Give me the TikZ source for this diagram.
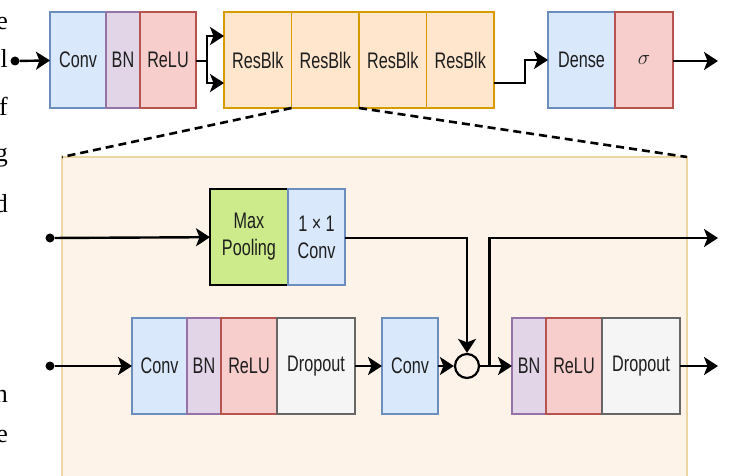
\documentclass[tikz,border=0pt]{standalone}
\usepackage{fontspec}
\setmainfont{Liberation Sans}[FakeStretch=0.72]
\newfontfamily\pagefont{Liberation Serif}
\usetikzlibrary{arrows.meta,positioning,calc}
\definecolor{nnink}{HTML}{1E1E1E}
\definecolor{nnblue}{HTML}{DAE8FC}
\definecolor{nnblueline}{HTML}{6C8EBF}
\definecolor{nnpurple}{HTML}{E1D5E7}
\definecolor{nnpurpleline}{HTML}{9673A6}
\definecolor{nnred}{HTML}{F8CECC}
\definecolor{nnredline}{HTML}{B85450}
\definecolor{nnorange}{HTML}{FFE6CC}
\definecolor{nnorangeline}{HTML}{D79B00}
\definecolor{nngreen}{HTML}{CDEB8B}
\definecolor{nngrey}{HTML}{F5F5F5}
\definecolor{nngreyline}{HTML}{666666}
\definecolor{nnzoom}{HTML}{FDF3E8}
\definecolor{nnzoomline}{HTML}{EBD6A4}
\tikzset{
  blk/.style={rectangle,line width=1.8pt,outer sep=0pt,inner sep=0pt,
              minimum height=96pt,align=center,text=nnink,
              font=\fontsize{22.5}{27}\selectfont},
  convb/.style={blk,draw=nnblueline,fill=nnblue,minimum width=#1},
  convb/.default=56pt,
  bnb/.style={blk,draw=nnpurpleline,fill=nnpurple,minimum width=34pt},
  relub/.style={blk,draw=nnredline,fill=nnred,minimum width=56pt},
  dropb/.style={blk,draw=nngreyline,fill=nngrey,minimum width=78pt},
  resb/.style={blk,draw=nnorangeline,fill=nnorange,minimum width=67.5pt},
  poolb/.style={blk,draw=black,line width=2pt,fill=nngreen,minimum width=78pt},
  flow/.style={-{Stealth[length=14pt,width=18pt,inset=3.5pt]},line width=2.4pt,draw=black},
  wire/.style={line width=2.4pt,draw=black},
  src/.style={circle,fill=black,inner sep=0pt,minimum size=9pt},
  zoomline/.style={line width=2.6pt,dash pattern=on 8pt off 5pt},
}
\begin{document}
\begin{tikzpicture}[x=1pt,y=-1pt]
  \useasboundingbox (0,0) rectangle (729,476);
  \clip (0,0) rectangle (729,476);

  % cut-off words of the surrounding page text
  \foreach \ch/\yy in {e/30,l/68,f/116,g/162,d/212,n/402,e/442}
    \node[anchor=base east,inner sep=0pt,font=\pagefont\fontsize{26}{26}\selectfont] at (8,\yy) {\ch};

  % expanded residual block (drawn behind everything)
  \node[rectangle,draw=nnzoomline,fill=nnzoom,line width=1.4pt,outer sep=0pt,
        minimum width=625pt,minimum height=340pt,anchor=north west] (zoom) at (62,157) {};

  % top row: stem, residual blocks, head
  \node[src] (in0) at (15,61) {};
  \node[convb] (conv) at (78,60) {Conv};
  \node[bnb,right=0pt of conv] (bn) {BN};
  \node[relub,right=0pt of bn] (relu) {ReLU};
  \node[resb,anchor=west] (r1) at (224,60) {ResBlk};
  \node[resb,right=0pt of r1] (r2) {ResBlk};
  \node[resb,right=0pt of r2] (r3) {ResBlk};
  \node[resb,right=0pt of r3] (r4) {ResBlk};
  \node[convb=67pt,anchor=west] (dense) at (548,60) {Dense};
  \node[relub,minimum width=58pt,right=0pt of dense] (sig) {$\sigma$};
  \coordinate (split) at (207,61);
  \coordinate (out0) at (718,61);

  \draw[flow] (in0) -- (conv);
  \draw[wire] (relu.east |- split) -- (split);
  \draw[flow] (split) |- ([yshift=24pt]r1.west);
  \draw[flow] (split) |- ([yshift=-23pt]r1.west);
  \draw[flow] ([yshift=-23pt]r4.east) -- ++(31,0) |- (dense.west);
  \draw[flow] (sig.east |- out0) -- (out0);

  \draw[zoomline] (r2.south west) -- (zoom.north west);
  \draw[zoomline] (r2.south east) -- (zoom.north east);

  % shortcut branch
  \node[src] (in1) at (50,238) {};
  \node[poolb,anchor=west] (pool) at (210,237) {Max\\Pooling};
  \node[convb=57pt,right=0pt of pool] (c11) {1 × 1\\Conv};

  % main branch
  \node[src] (in2) at (50,366) {};
  \node[convb=55pt,anchor=west] (cv1) at (132,366) {Conv};
  \node[bnb,right=0pt of cv1] (bn1) {BN};
  \node[relub,right=0pt of bn1] (relu1) {ReLU};
  \node[dropb,right=0pt of relu1] (drop1) {Dropout};
  \node[convb,anchor=west] (cv2) at (382,366) {Conv};
  \node[circle,draw=black,line width=2.2pt,fill=nnzoom,minimum size=24pt,inner sep=0pt]
    (add) at (467,366) {};
  \node[bnb,anchor=west] (bn2) at (512,366) {BN};
  \node[relub,right=0pt of bn2] (relu2) {ReLU};
  \node[dropb,right=0pt of relu2] (drop2) {Dropout};
  \coordinate (tap) at ($(add.east)!0.3!(bn2.west)$);
  \coordinate (out1) at (718,238);
  \coordinate (out2) at (718,366);

  \draw[flow] (in1) -- (pool);
  \draw[flow] (c11.east |- in1) -| (add.north);
  \draw[flow] (in2) -- (cv1);
  \draw[flow] (drop1) -- (cv2);
  \draw[flow] (cv2) -- (add);
  \draw[flow] (add) -- (bn2);
  \draw[flow] (tap) |- (out1);
  \draw[flow] (drop2) -- (out2);
\end{tikzpicture}
\end{document}
